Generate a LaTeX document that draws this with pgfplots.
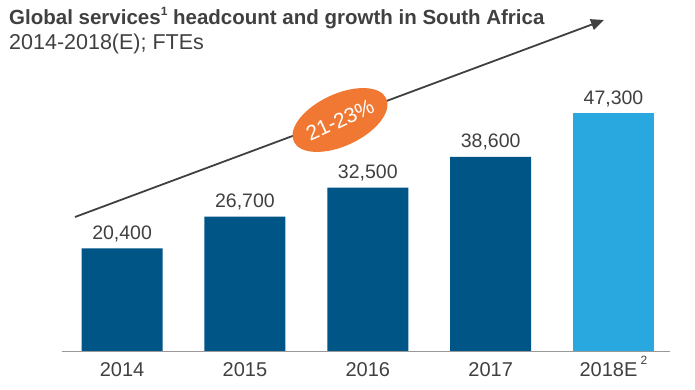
\documentclass[border=0pt]{standalone}
\usepackage{pgfplots}
\pgfplotsset{compat=1.18}
\usepackage{fontspec}
\setmainfont{Liberation Sans}
\usetikzlibrary{arrows.meta}
\definecolor{darkblue}{RGB}{0,85,135}
\definecolor{lightblue}{RGB}{41,168,224}
\definecolor{txt}{RGB}{64,64,64}
\definecolor{orng}{RGB}{240,120,50}
\begin{document}
\begin{tikzpicture}[x=1pt,y=1pt]
\path[use as bounding box] (0,0) rectangle (695,390);
\begin{axis}[
  at={(62pt,39pt)}, anchor=south west,
  scale only axis, width=608pt, height=300pt,
  xmin=-0.489, xmax=4.46, ymin=0, ymax=59640,
  hide y axis, axis x line=bottom,
  x axis line style={-, color=black!40, line width=0.9pt},
  xtick={0,1,2,3,4}, major tick length=0pt,
  xticklabels={2014,2015,2016,2017,{2018E\,\smash{\raisebox{0.6em}{\fontsize{12}{12}\selectfont 2}}}},
  xticklabel style={font=\fontsize{20}{20}\selectfont, color=txt, yshift=-8pt},
  ybar, bar width=81pt, bar shift=0pt,
  clip=false,
  nodes near coords,
  every node near coord/.append style={font=\fontsize{19.5}{19.5}\selectfont, color=txt, anchor=south, yshift=3pt},
  /pgf/number format/.cd, fixed, 1000 sep={,}, assume math mode=true,
]
\addplot[fill=darkblue, draw=none] coordinates {(0,20400) (1,26700) (2,32500) (3,38600)};
\addplot[fill=lightblue, draw=none] coordinates {(4,47300)};
\end{axis}
\node[anchor=west, inner sep=0, font=\bfseries\fontsize{20.5}{20.5}\selectfont, color=txt] at (9,372) {Global services\raisebox{0.45em}{\fontsize{12}{12}\selectfont 1} headcount and growth in South Africa};
\node[anchor=west, inner sep=0, font=\fontsize{21.5}{21.5}\selectfont, color=txt] at (9,346) {2014-2018(E); FTEs};
\draw[line width=1.8pt, color=txt, -{Triangle[length=13pt,width=11pt]}] (75,173) -- (604,370);
\fill[orng, rotate around={25:(340,270)}] (340,270) ellipse [x radius=51, y radius=26];
\node[rotate=25, color=white, font=\fontsize{21}{21}\selectfont] at (340,270) {21-23\%};
\end{tikzpicture}
\end{document}
